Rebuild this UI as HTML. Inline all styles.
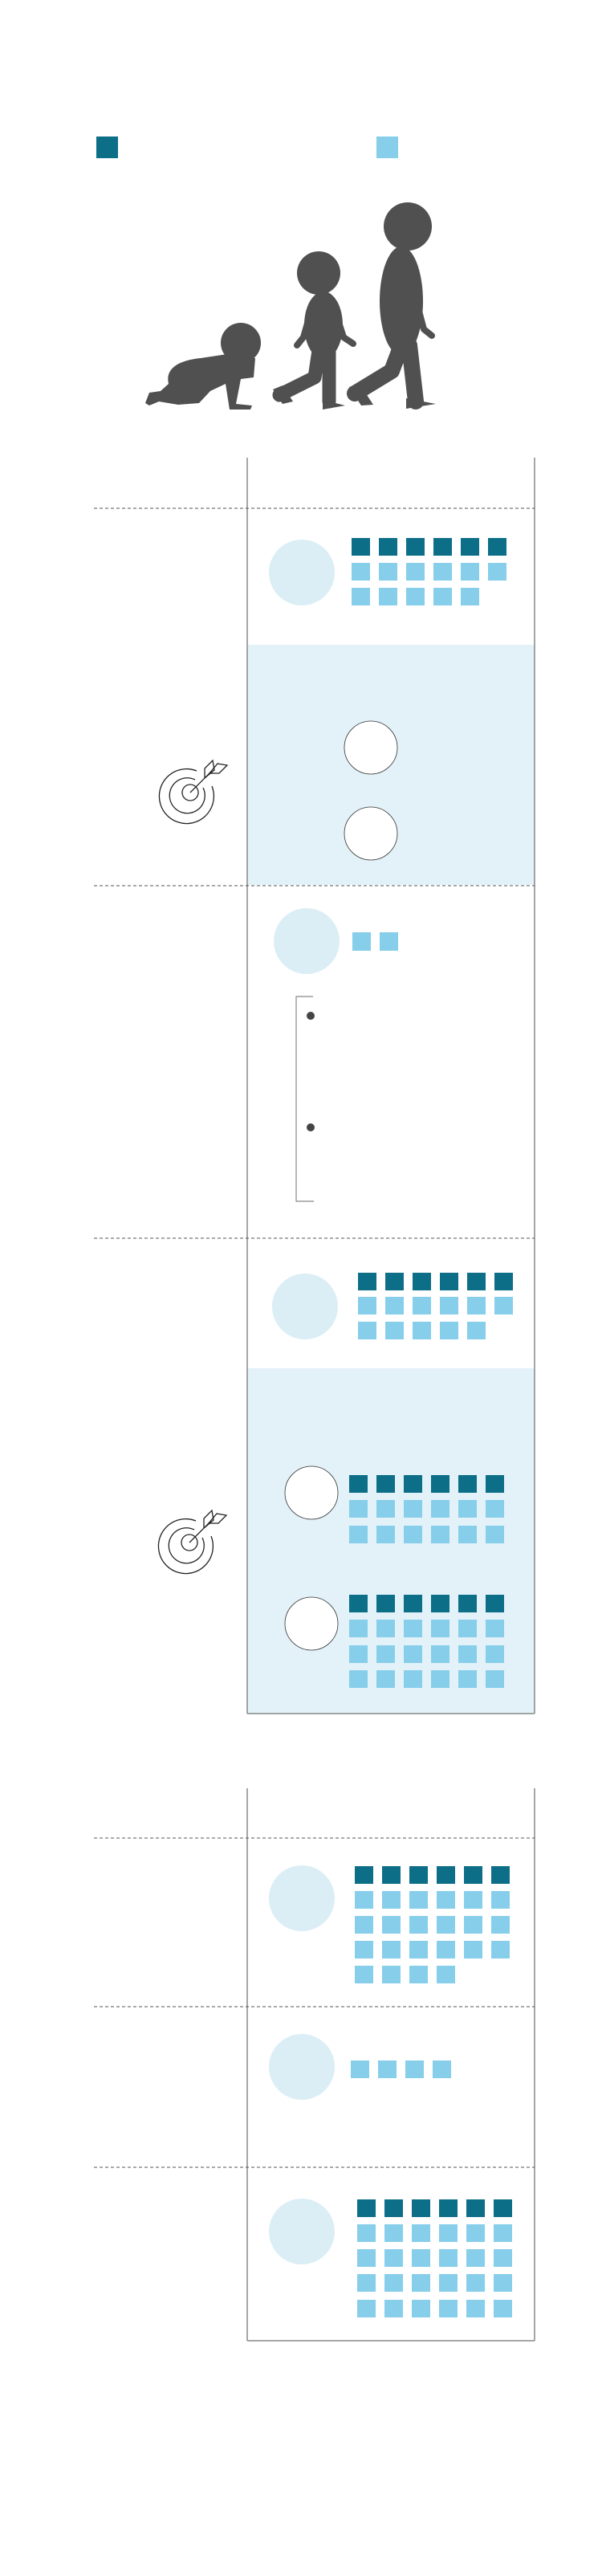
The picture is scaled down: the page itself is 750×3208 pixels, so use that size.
<!DOCTYPE html>
<html><head><meta charset="utf-8"><style>html,body{margin:0;padding:0;background:#fff}svg{display:block}</style></head>
<body>
<svg width="750" height="3208" viewBox="0 0 750 3208" xmlns="http://www.w3.org/2000/svg">
<defs>
<g id="tgt" fill="none" stroke="#222" stroke-width="1.3">
<path d="M27,-8 A34,34 0 1 1 8,-27"/>
<path d="M16,-6 A22,22 0 1 1 6,-16"/>
<circle r="10"/>
<path d="M0,0 L24,-24"/>
<path d="M18,-18 L18,-30 L28,-40 L30,-28 Z M24,-24 L36,-24 L46,-34 L34,-36 Z"/>
</g>
<g id="d6"><rect x="0" width="23" height="22"/><rect x="34" width="23" height="22"/><rect x="68" width="23" height="22"/><rect x="102" width="23" height="22"/><rect x="136" width="23" height="22"/><rect x="170" width="23" height="22"/></g>
<g id="d5"><rect x="0" width="23" height="22"/><rect x="34" width="23" height="22"/><rect x="68" width="23" height="22"/><rect x="102" width="23" height="22"/><rect x="136" width="23" height="22"/></g>
<g id="d4"><rect x="0" width="23" height="22"/><rect x="34" width="23" height="22"/><rect x="68" width="23" height="22"/><rect x="102" width="23" height="22"/></g>
</defs>
<!-- legend -->
<rect x="120" y="170" width="27" height="27" fill="#0d6e87"/>
<rect x="469" y="170" width="27" height="27" fill="#87ceeb"/>
<!-- silhouettes -->
<g fill="#505050" stroke="#505050" stroke-linecap="round" stroke-linejoin="round">
<circle cx="300" cy="427" r="25" stroke="none"/>
<path stroke="none" d="M210,478 C205,455 230,448 250,446 L290,440 L318,446 L316,470 L300,472 L294,503 L314,505 L312,510 L286,510 L281,478 L262,487 L248,502 L222,504 L198,500 L186,505 L181,502 L186,489 L200,487 Z"/>
<circle cx="397" cy="340" r="27" stroke="none"/>
<ellipse cx="403" cy="405" rx="24" ry="42" stroke="none"/>
<path fill="none" stroke-width="17" d="M398,430 L392,470 L348,492 M410,430 L410,500"/>
<path fill="none" stroke-width="8" d="M388,385 L378,420 L370,430 M420,395 L428,420 L440,428"/>
<path stroke="none" d="M340,485 L352,503 L365,500 L352,480 Z M402,498 L430,505 L402,510 Z"/>
<circle cx="508" cy="282" r="30" stroke="none"/>
<ellipse cx="500" cy="375" rx="27" ry="68" stroke="none"/>
<path fill="none" stroke-width="20" d="M500,430 L488,462 L442,490 M510,430 L518,500"/>
<path fill="none" stroke-width="8" d="M520,380 L528,410 L538,418"/>
<path stroke="none" d="M435,482 L450,505 L465,504 L448,478 Z M506,496 L543,503 L506,509 Z"/>
</g>
<!-- bands -->
<rect x="308" y="803" width="358" height="299" fill="#e2f2f8"/>
<rect x="308" y="1704" width="358" height="430" fill="#e2f2f8"/>
<g stroke="#888" stroke-width="1.5" fill="none">
<line x1="308" y1="570" x2="308" y2="2134"/>
<line x1="666" y1="570" x2="666" y2="2134"/>
<line x1="308" y1="2134" x2="666" y2="2134"/>
<line x1="308" y1="2227" x2="308" y2="2915"/>
<line x1="666" y1="2227" x2="666" y2="2915"/>
<line x1="308" y1="2915" x2="666" y2="2915"/>
</g>
<g stroke="#555" stroke-width="1" stroke-dasharray="4,3">
<line x1="117" y1="633" x2="666" y2="633"/>
<line x1="117" y1="1103" x2="666" y2="1103"/>
<line x1="117" y1="1542" x2="666" y2="1542"/>
<line x1="117" y1="2289" x2="666" y2="2289"/>
<line x1="117" y1="2499" x2="666" y2="2499"/>
<line x1="117" y1="2699" x2="666" y2="2699"/>
</g>
<!-- light circles -->
<g fill="#dbeef5">
<circle cx="376" cy="713" r="41"/>
<circle cx="382" cy="1172" r="41"/>
<circle cx="380" cy="1627" r="41"/>
<circle cx="376" cy="2364" r="41"/>
<circle cx="376" cy="2574" r="41"/>
<circle cx="376" cy="2779" r="41"/>
</g>
<!-- white circles -->
<g fill="#fff" stroke="#333" stroke-width="0.8">
<circle cx="462" cy="931" r="33"/>
<circle cx="462" cy="1038" r="33"/>
<circle cx="388" cy="1859" r="33"/>
<circle cx="388" cy="2022" r="33"/>
</g>
<use href="#tgt" x="237" y="987"/>
<use href="#tgt" x="236" y="1921"/>
<!-- bracket -->
<path d="M390,1241 L369,1241 L369,1496 L391,1496" fill="none" stroke="#888" stroke-width="1.2"/>
<circle cx="387" cy="1265" r="5" fill="#444"/>
<circle cx="387" cy="1404" r="5" fill="#444"/>
<!-- squares -->
<g fill="#0d6e87">
<use href="#d6" x="438" y="670"/>
<use href="#d6" x="446" y="1585"/>
<use href="#d6" x="435" y="1837"/>
<use href="#d6" x="435" y="1986"/>
<use href="#d6" x="442" y="2324"/>
<use href="#d6" x="445" y="2739"/>
</g>
<g fill="#87ceeb">
<use href="#d6" x="438" y="701"/>
<use href="#d5" x="438" y="732"/>
<rect x="439" y="1161" width="23" height="23"/><rect x="473" y="1161" width="23" height="23"/>
<use href="#d6" x="446" y="1615"/>
<use href="#d5" x="446" y="1646"/>
<use href="#d6" x="435" y="1868"/>
<use href="#d6" x="435" y="1900"/>
<use href="#d6" x="435" y="2017"/>
<use href="#d6" x="435" y="2049"/>
<use href="#d6" x="435" y="2080"/>
<use href="#d6" x="442" y="2355"/>
<use href="#d6" x="442" y="2386"/>
<use href="#d6" x="442" y="2417"/>
<use href="#d4" x="442" y="2448"/>
<use href="#d4" x="437" y="2566"/>
<use href="#d6" x="445" y="2770"/>
<use href="#d6" x="445" y="2801"/>
<use href="#d6" x="445" y="2832"/>
<use href="#d6" x="445" y="2864"/>
</g>
</svg>
</body></html>
